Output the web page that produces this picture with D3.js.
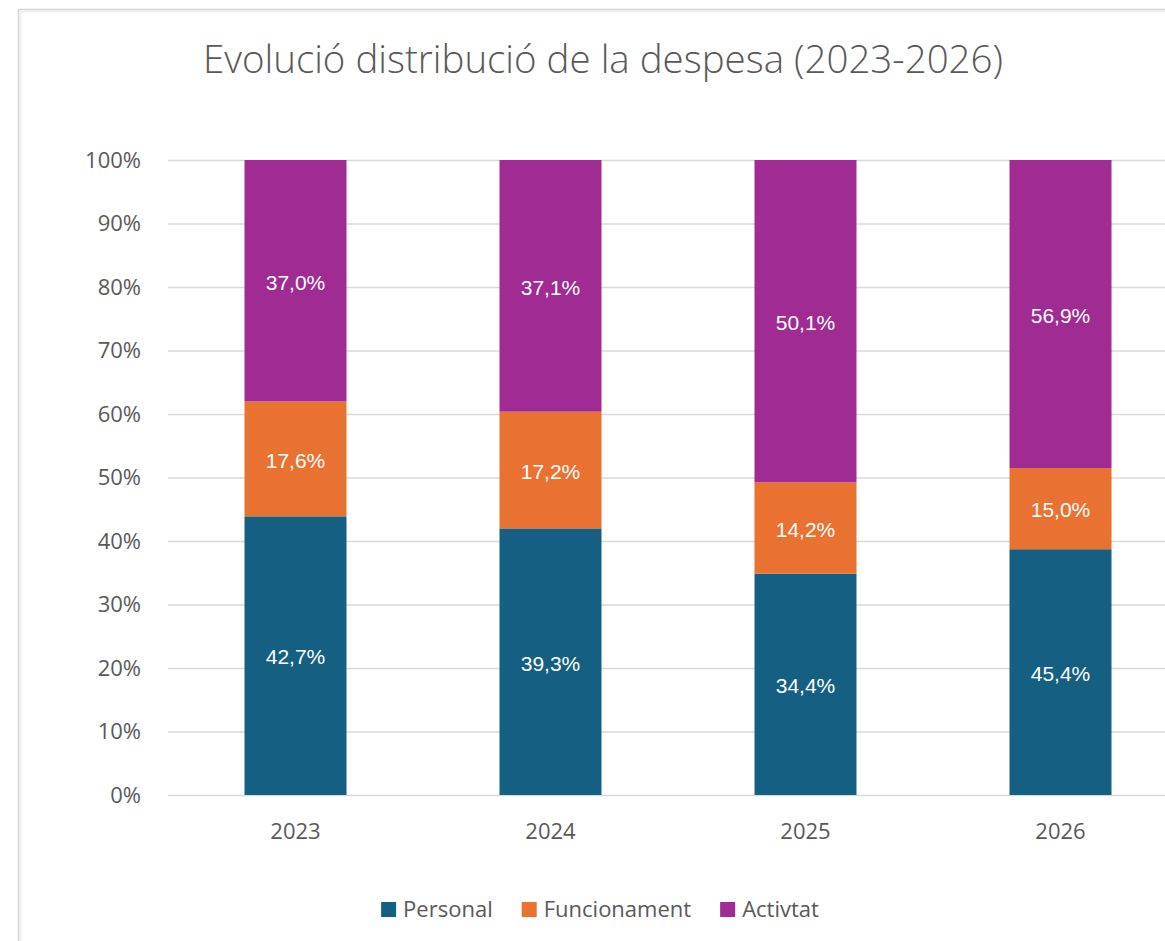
<!DOCTYPE html>
<html>
<head>
<meta charset="utf-8">
<script src="https://cdn.jsdelivr.net/npm/d3@7"></script>
<style>
  html, body { margin: 0; padding: 0; background: #ffffff; }
  svg { display: block; }
</style>
</head>
<body>
<svg id="chart" width="1165" height="941"></svg>
<script>
// Years shown on the category axis
const years = ["2023", "2024", "2025", "2026"];
// Expense groups (stack order, bottom to top)
const seriesNames = ["Personal", "Funcionament", "Activtat"];
// Share of expense per year, as printed on each segment (%)
const personal     = [42.7, 39.3, 34.4, 45.4];
const funcionament = [17.6, 17.2, 14.2, 15.0];
const activitat    = [37.0, 37.1, 50.1, 56.9];
// Y axis ticks (fraction of the total)
const yTicks = [0, 0.1, 0.2, 0.3, 0.4, 0.5, 0.6, 0.7, 0.8, 0.9, 1.0];

const colors = ["#156082", "#E97132", "#A02B93"];
const title = "Evolució distribució de la despesa (2023-2026)";

const svg = d3.select("#chart");
const W = 1165, H = 941;

// Chart frame (left and top edges, soft gray)
const frame = svg.append("g");
frame.append("line").attr("x1", 18.5).attr("x2", 18.5).attr("y1", 9).attr("y2", H)
  .attr("stroke", "#d4d4d4").attr("stroke-width", 1.5);
frame.append("line").attr("x1", 20.5).attr("x2", 20.5).attr("y1", 11).attr("y2", H)
  .attr("stroke", "#eeeeee").attr("stroke-width", 2);
frame.append("line").attr("x1", 18).attr("x2", W).attr("y1", 9.5).attr("y2", 9.5)
  .attr("stroke", "#d4d4d4").attr("stroke-width", 1.5);
frame.append("line").attr("x1", 20).attr("x2", W).attr("y1", 11.5).attr("y2", 11.5)
  .attr("stroke", "#eeeeee").attr("stroke-width", 2);

// Title
svg.append("text")
  .attr("x", 603).attr("y", 73)
  .attr("text-anchor", "middle")
  .attr("font-family", "'Open Sans', sans-serif")
  .attr("font-weight", 300)
  .attr("font-size", 39)
  .attr("fill", "#595959")
  .attr("textLength", 800)
  .attr("lengthAdjust", "spacingAndGlyphs")
  .text(title);

// Scales
const x = d3.scaleBand().domain(years).range([168, 1188])
  .paddingInner(0.6).paddingOuter(0.3);
const y = d3.scaleLinear().domain([0, 1]).range([795, 160]);

// Rows for the stack layout
const rows = years.map((yr, i) => ({
  year: yr,
  Personal: personal[i],
  Funcionament: funcionament[i],
  Activtat: activitat[i]
}));

const stack = d3.stack().keys(seriesNames).offset(d3.stackOffsetExpand);
const layers = stack(rows);

// Gridlines + y labels via axis
const yAxis = d3.axisLeft(y)
  .tickValues(yTicks)
  .tickSize(-(W - 168))
  .tickPadding(27)
  .tickFormat(d3.format(".0%"));

const gy = svg.append("g").attr("transform", "translate(168,0)").call(yAxis);
gy.select(".domain").remove();
gy.selectAll(".tick line").attr("stroke", "#d9d9d9").attr("stroke-width", 1.5);
gy.selectAll(".tick text")
  .attr("font-family", "'Open Sans', sans-serif")
  .attr("font-size", 22)
  .attr("fill", "#595959");

// Bars
const gBars = svg.append("g");
layers.forEach((layer, si) => {
  gBars.selectAll(null)
    .data(layer)
    .join("rect")
    .attr("x", d => x(d.data.year))
    .attr("width", x.bandwidth())
    .attr("y", d => y(d[1]))
    .attr("height", d => y(d[0]) - y(d[1]))
    .attr("fill", colors[si]);
});

// Segment value labels
const fmtPct = v => v.toFixed(1).replace(".", ",") + "%";
layers.forEach((layer, si) => {
  gBars.selectAll(null)
    .data(layer)
    .join("text")
    .attr("x", d => x(d.data.year) + x.bandwidth() / 2)
    .attr("y", d => (y(d[0]) + y(d[1])) / 2)
    .attr("dy", "0.42em")
    .attr("text-anchor", "middle")
    .attr("font-family", "'Liberation Sans', Arial, sans-serif")
    .attr("font-size", 21)
    .attr("fill", "#ffffff")
    .text(d => fmtPct(d.data[layer.key]));
});

// X axis labels
const xAxis = d3.axisBottom(x).tickSize(0).tickPadding(28);
const gx = svg.append("g").attr("transform", "translate(0,795)").call(xAxis);
gx.select(".domain").remove();
gx.selectAll(".tick text")
  .attr("font-family", "'Open Sans', sans-serif")
  .attr("font-size", 22)
  .attr("fill", "#595959");

// Legend
const legend = svg.append("g");
const items = legend.selectAll("g").data(seriesNames).join("g");
items.append("rect")
  .attr("width", 15).attr("height", 15)
  .attr("y", -15)
  .attr("fill", (d, i) => colors[i]);
items.append("text")
  .attr("x", 22)
  .attr("font-family", "'Open Sans', sans-serif")
  .attr("font-size", 22)
  .attr("fill", "#595959")
  .text(d => d);
let cursor = 0;
const offsets = [];
items.each(function () {
  offsets.push(cursor);
  const tw = d3.select(this).select("text").node().getComputedTextLength();
  cursor += 22 + tw + 29;
});
const totalW = cursor - 29;
items.attr("transform", (d, i) => `translate(${offsets[i]},0)`);
legend.attr("transform", `translate(${600 - totalW / 2},917)`);
</script>
</body>
</html>
